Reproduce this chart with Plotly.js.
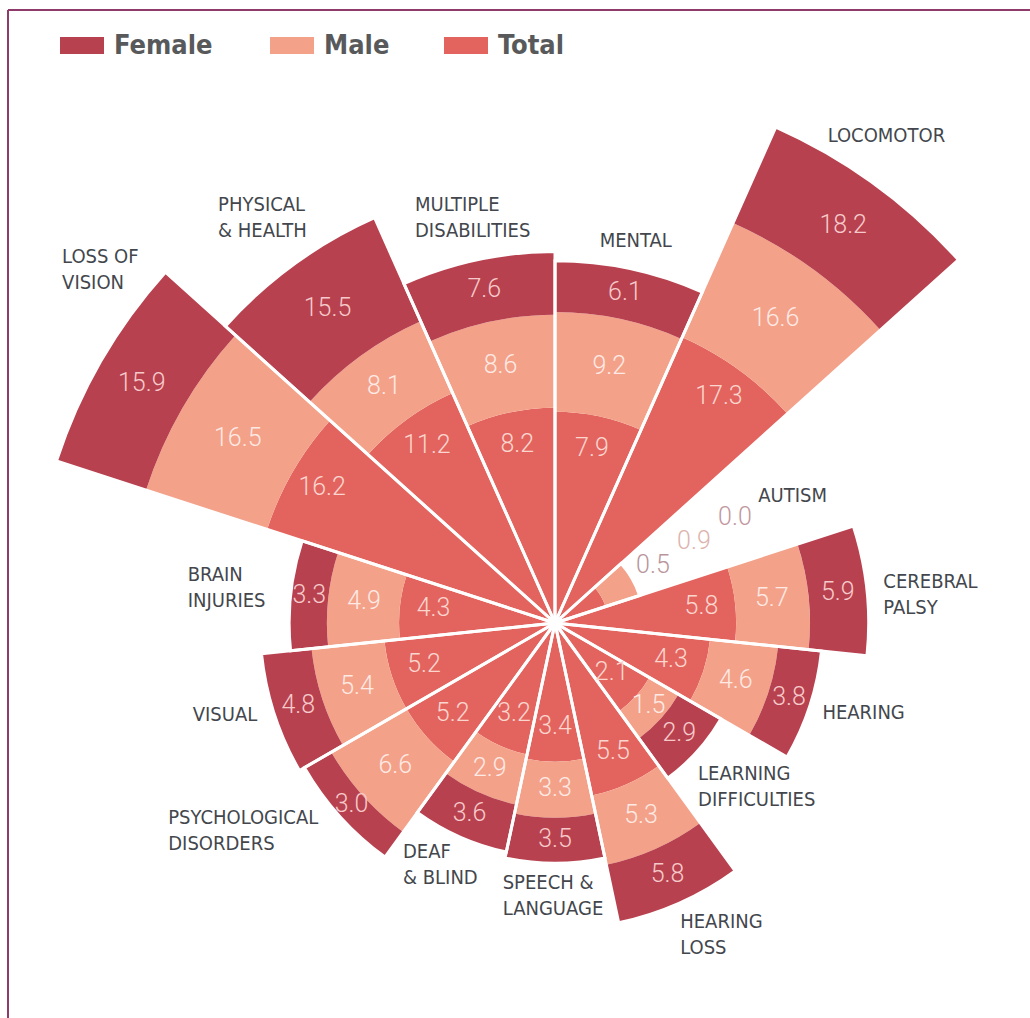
<!DOCTYPE html>
<html>
<head>
<meta charset="utf-8">
<script src="https://cdn.plot.ly/plotly-3.0.1.min.js"></script>
<style>
html,body{margin:0;padding:0;overflow:hidden;background:#ffffff;width:1030px;height:1018px;position:relative}
#chart{position:absolute;left:-70px;top:-5px}
</style>
</head>
<body>
<div id="chart"></div>
<script>
// ---------------- DATA ----------------
const categories = ["MENTAL","LOCOMOTOR","AUTISM","CEREBRAL PALSY","HEARING","LEARNING DIFFICULTIES","HEARING LOSS","SPEECH & LANGUAGE","DEAF & BLIND","PSYCHOLOGICAL DISORDERS","VISUAL","BRAIN INJURIES","LOSS OF VISION","PHYSICAL & HEALTH","MULTIPLE DISABILITIES"];
const categoryLabels = ["MENTAL","LOCOMOTOR","AUTISM","CEREBRAL<br>PALSY","HEARING","LEARNING<br>DIFFICULTIES","HEARING<br>LOSS","SPEECH &<br>LANGUAGE","DEAF<br>& BLIND","PSYCHOLOGICAL<br>DISORDERS","VISUAL","BRAIN<br>INJURIES","LOSS OF<br>VISION","PHYSICAL<br>& HEALTH","MULTIPLE<br>DISABILITIES"];
const totalValues  = [7.9,17.3,0.5,5.8,4.3,2.1,5.5,3.4,3.2,5.2,5.2,4.3,16.2,11.2,8.2];
const maleValues   = [9.2,16.6,0.9,5.7,4.6,1.5,5.3,3.3,2.9,6.6,5.4,4.9,16.5,8.1,8.6];
const femaleValues = [6.1,18.2,0.0,5.9,3.8,2.9,5.8,3.5,3.6,3.0,4.8,3.3,15.9,15.5,7.6];
const legendNames  = ["Female","Male","Total"];

// ---------------- LAYOUT / STYLE ----------------
// figure is larger than the window and shifted by (OX, OY); the window shows its visible part
const OX = 70, OY = 5;
const W = 1250, H = 1250;
const CX = 555, CY = 623;          // pole position in window px
const RPX = 620;                   // radius of the polar frame (px)
const K = 75.2;                    // px per sqrt-unit
const RMAX = RPX / K;
const COL = {female:"#B8414F", male:"#F4A18A", total:"#E3645E"};
const TXT = {female:"#F6CACA", male:"#FDEAE4", total:"#FBD6CF"};
const OUT_TXT = ["#B9959C","#DDB3AE","#C2979F"];
const LABEL_FONT = "Liberation Sans Narrow, DejaVu Sans Condensed, Roboto, sans-serif";
const VALUE_FONT = "Roboto, Open Sans, sans-serif";
// per-label placement tuning (angle offset in degrees clockwise, radial pad in sqrt-units)
const LABEL_DT  = [-5.3,-6.7,-1.9,1.3,0.7,7.0,2.2,10.8,8.0,13.6,3.6,-0.7,5.5,-3.8,-7.1];
const LABEL_PAD = [0.28,0.19,2.0,0.21,0.19,0.35,0.41,0.52,0.70,2.0,1.05,1.37,1.08,1.10,0.75];

// ---------------- DERIVED (area-proportional radial scale) ----------------
const N = categories.length;
const sq = Math.sqrt;
const cumTM  = totalValues.map((t,i)=>t+maleValues[i]);
const cumAll = cumTM.map((c,i)=>c+femaleValues[i]);
const rTot = totalValues.map(sq);
const rTM  = cumTM.map(sq);
const rAll = cumAll.map(sq);
const zeros = categories.map(()=>0);

const traces = [];
traces.push({type:"barpolar", subplot:"polar", name:"Total", theta:categories,
  base:zeros, r:rTot, marker:{color:COL.total, line:{width:0}}, hoverinfo:"skip", showlegend:false});
traces.push({type:"barpolar", subplot:"polar", name:"Male", theta:categories,
  base:rTot, r:rTM.map((v,i)=>v-rTot[i]), marker:{color:COL.male, line:{width:0}}, hoverinfo:"skip", showlegend:false});
traces.push({type:"barpolar", subplot:"polar", name:"Female", theta:categories,
  base:rTM, r:rAll.map((v,i)=>v-rTM[i]), marker:{color:COL.female, line:{width:0}}, hoverinfo:"skip", showlegend:false});
// white separators between wedges
traces.push({type:"barpolar", subplot:"polar", name:"sep", theta:categories,
  base:zeros, r:rAll, marker:{color:"rgba(0,0,0,0)", line:{color:"#ffffff", width:3}}, hoverinfo:"skip", showlegend:false});

// value labels
const vText=[], vR=[], vTheta=[], vCol=[];
for (let i=0;i<N;i++){
  const segs = [
    {v:totalValues[i], r0:0, r1:rTot[i], c:TXT.total},
    {v:maleValues[i], r0:rTot[i], r1:rTM[i], c:TXT.male},
    {v:femaleValues[i], r0:rTM[i], r1:rAll[i], c:TXT.female}
  ];
  const outside = cumAll[i] < 2;
  segs.forEach((sg,j)=>{
    let r, c = sg.c;
    if (outside){ r = rAll[i] + 0.32 + 0.63*j; c = OUT_TXT[j]; }
    else if (j===0){ r = Math.max(sg.r1 - 0.45, sg.r1*0.7); }
    else { r = (sg.r0 + sg.r1)/2; }
    vText.push(sg.v.toFixed(1)); vR.push(r); vTheta.push(categories[i]); vCol.push(c);
  });
}
traces.push({type:"scatterpolar", subplot:"polar", mode:"text", r:vR, theta:vTheta, text:vText,
  textposition:"middle center", cliponaxis:false, hoverinfo:"skip", showlegend:false,
  textfont:{family:VALUE_FONT, size:25, color:vCol, weight:300}});

// category labels (left-aligned, placed just outside each wedge)
const lR = rAll.map((v,i)=>v + LABEL_PAD[i]);
const lTheta = categories.map((c,i)=>12 + 24*i + LABEL_DT[i]);
traces.push({type:"scatterpolar", subplot:"polar2", mode:"text", r:lR, theta:lTheta, text:categoryLabels,
  textposition:"middle right", cliponaxis:false, hoverinfo:"skip", showlegend:false,
  textfont:{family:LABEL_FONT, size:20, color:"#43474D"}});

const fx = CX + OX, fy = CY + OY;   // pole in figure px
const dom = {x:[(fx-RPX)/W, (fx+RPX)/W], y:[1-(fy+RPX)/H, 1-(fy-RPX)/H]};
const hiddenRadial = {range:[0,RMAX], visible:false, showgrid:false, showline:false, showticklabels:false, ticks:""};

// legend (shapes + annotations) and frame lines, given in window px
const px = x => (x+OX)/W, py = y => 1 - (y+OY)/H;
const legendX = [60, 270, 444];
const legendCols = [COL.female, COL.male, COL.total];
const FRAME = "#8E3B6C";
const shapes = [
  {type:"line", xref:"paper", yref:"paper", x0:px(8), x1:1, y0:py(10), y1:py(10), line:{color:FRAME, width:2}},
  {type:"line", xref:"paper", yref:"paper", x0:px(8), x1:px(8), y0:py(10), y1:0, line:{color:FRAME, width:2}}
];
const annotations = [];
legendNames.forEach((nm,k)=>{
  shapes.push({type:"rect", xref:"paper", yref:"paper", x0:px(legendX[k]), x1:px(legendX[k]+44),
    y0:py(54), y1:py(37), fillcolor:legendCols[k], line:{width:0}});
  annotations.push({xref:"paper", yref:"paper", x:px(legendX[k]+52), y:py(44), xanchor:"left", yanchor:"middle",
    text:nm, showarrow:false, font:{family:LABEL_FONT, size:27, weight:700, color:"#58595B"}});
});

const layout = {
  width:W, height:H, margin:{l:0,r:0,t:0,b:0},
  paper_bgcolor:"#ffffff", plot_bgcolor:"#ffffff", showlegend:false,
  polar:{domain:dom, bgcolor:"rgba(0,0,0,0)", barmode:"overlay", bargap:0, hole:0,
    radialaxis:hiddenRadial,
    angularaxis:{type:"category", categoryarray:categories, rotation:78, direction:"clockwise",
      visible:false, showgrid:false, showline:false, showticklabels:false, ticks:""}},
  polar2:{domain:dom, bgcolor:"rgba(0,0,0,0)", hole:0,
    radialaxis:hiddenRadial,
    angularaxis:{type:"linear", thetaunit:"degrees", rotation:90, direction:"clockwise",
      visible:false, showgrid:false, showline:false, showticklabels:false, ticks:""}},
  shapes:shapes, annotations:annotations
};

Plotly.newPlot("chart", traces, layout, {staticPlot:true, displayModeBar:false});
</script>
</body>
</html>
